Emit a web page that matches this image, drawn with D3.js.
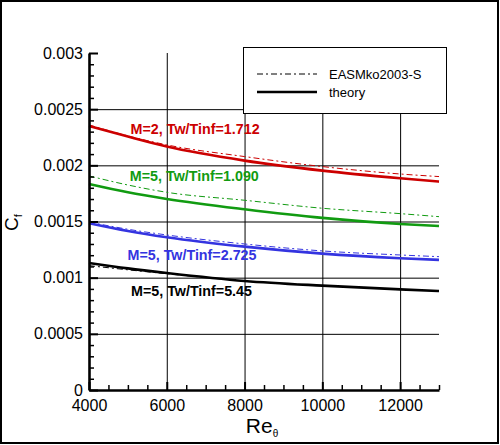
<!DOCTYPE html>
<html>
<head>
<meta charset="utf-8">
<script src="https://cdn.jsdelivr.net/npm/d3@7"></script>
<style>
  body { margin: 0; background: #fff; }
  svg { font-family: "Liberation Sans", Arial, Helvetica, sans-serif; }
  .tick text { font-size: 16px; fill: #000; }
  .grid .tick line { stroke: #000; stroke-width: 1; }
  .grid .domain { display: none; }
</style>
</head>
<body>
<div id="chart"></div>
<script>

// Re_theta sample positions
var reTheta = [4000, 5000, 6000, 8000, 10000, 12000, 13000];

// theory curves (solid)
var theoryM2T1712 = [0.002351, 0.002256, 0.002167, 0.002042, 0.001953, 0.001885, 0.001855];
var theoryM5T1090 = [0.001834, 0.001760, 0.001701, 0.001609, 0.001532, 0.001478, 0.001460];
var theoryM5T2725 = [0.001485, 0.001416, 0.001360, 0.001276, 0.001214, 0.001173, 0.001158];
var theoryM5T545  = [0.001131, 0.001083, 0.001042, 0.000971, 0.000929, 0.000896, 0.000881];

// EASMko2003-S curves (dash-dot)
var easmM2T1712 = [0.002360, 0.002262, 0.002182, 0.002078, 0.001989, 0.001923, 0.001900];
var easmM5T1090 = [0.001906, 0.001825, 0.001760, 0.001689, 0.001618, 0.001570, 0.001543];
var easmM5T2725 = [0.001495, 0.001431, 0.001380, 0.001300, 0.001238, 0.001202, 0.001187];
var easmM5T545  = [0.001107, 0.001070, 0.001035, 0.000971, 0.000929, 0.000896, 0.000881];

var caseNames = ["M=2, Tw/Tinf=1.712", "M=5, Tw/Tinf=1.090", "M=5, Tw/Tinf=2.725", "M=5, Tw/Tinf=5.45"];
var caseColors = ["#cc0000", "#119b11", "#3434e0", "#000000"];

var xTicks = [4000, 6000, 8000, 10000, 12000];
var yTicks = [0, 0.0005, 0.001, 0.0015, 0.002, 0.0025, 0.003];

var W = 500, H = 445;
var margin = {top: 53, right: 61, bottom: 55, left: 89};
var width = W - margin.left - margin.right,
    height = H - margin.top - margin.bottom;

var svg = d3.select("#chart").append("svg")
    .attr("width", W)
    .attr("height", H);

// outer frame
svg.append("rect")
    .attr("x", 1).attr("y", 1)
    .attr("width", 497).attr("height", 442)
    .attr("fill", "none")
    .attr("stroke", "#000")
    .attr("stroke-width", 2);

var g = svg.append("g")
    .attr("transform", "translate(" + margin.left + "," + margin.top + ")");

var x = d3.scaleLinear().domain([4000, 13000]).range([0, width]);
var y = d3.scaleLinear().domain([0, 0.003]).range([height, 0]);

// grid lines
g.append("g")
    .attr("class", "grid")
    .attr("transform", "translate(0," + height + ")")
    .call(d3.axisBottom(x).tickValues(xTicks.slice(1)).tickSize(-height).tickFormat(""));

g.append("g")
    .attr("class", "grid")
    .call(d3.axisLeft(y).tickValues(yTicks.slice(1, -1)).tickSize(-width).tickFormat(""));

// curves
var series = [
    {theory: theoryM2T1712, easm: easmM2T1712},
    {theory: theoryM5T1090, easm: easmM5T1090},
    {theory: theoryM5T2725, easm: easmM5T2725},
    {theory: theoryM5T545,  easm: easmM5T545}
];

var line = d3.line()
    .x(function(d) { return x(d[0]); })
    .y(function(d) { return y(d[1]); })
    .curve(d3.curveMonotoneX);

series.forEach(function(s, i) {
    g.append("path")
        .datum(d3.zip(reTheta, s.easm))
        .attr("d", line)
        .attr("fill", "none")
        .attr("stroke", caseColors[i])
        .attr("stroke-width", 1)
        .attr("stroke-dasharray", "6,3,2,3");

    g.append("path")
        .datum(d3.zip(reTheta, s.theory))
        .attr("d", line)
        .attr("fill", "none")
        .attr("stroke", caseColors[i])
        .attr("stroke-width", 2.6);
});

// curve labels
var labelPos = [[5070, 0.00228], [5050, 0.00186], [4990, 0.001155], [5080, 0.000835]];
labelPos.forEach(function(p, i) {
    g.append("text")
        .attr("x", x(p[0]))
        .attr("y", y(p[1]))
        .attr("fill", caseColors[i])
        .attr("font-size", 15)
        .attr("font-weight", "bold")
        .attr("textLength", i == 3 ? 121 : 129)
        .attr("lengthAdjust", "spacingAndGlyphs")
        .text(caseNames[i]);
});

// minor ticks
var xMinor = d3.range(4500, 13001, 500).filter(function(d) { return d % 2000 != 0; });
var yMinor = d3.range(1, 30).map(function(d) { return d / 10000; }).filter(function(d, i) { return (i + 1) % 5 != 0; });

g.append("g")
    .attr("transform", "translate(0," + height + ")")
    .call(d3.axisBottom(x).tickValues(xMinor).tickSize(-5).tickSizeOuter(0).tickFormat(""))
    .call(function(a) { a.select(".domain").remove(); a.selectAll("line").attr("stroke-width", 1.5); });

g.append("g")
    .call(d3.axisLeft(y).tickValues(yMinor).tickSize(-5).tickSizeOuter(0).tickFormat(""))
    .call(function(a) { a.select(".domain").remove(); a.selectAll("line").attr("stroke-width", 1.5); });

// major axes
var xAxis = g.append("g")
    .attr("transform", "translate(0," + height + ")")
    .call(d3.axisBottom(x).tickValues(xTicks).tickSizeInner(-8).tickSizeOuter(0).tickPadding(10)
        .tickFormat(d3.format("d")));
xAxis.select(".domain").attr("stroke-width", 2.6);
xAxis.selectAll("line").attr("stroke-width", 2);
xAxis.selectAll("text").attr("y", 10).attr("dy", "0.71em");

var yAxis = g.append("g")
    .call(d3.axisLeft(y).tickValues(yTicks).tickSizeInner(-9).tickSizeOuter(0).tickPadding(6)
        .tickFormat(function(d) { return String(+d.toFixed(4)); }));
yAxis.select(".domain").attr("stroke-width", 2.6);
yAxis.selectAll("line").attr("stroke-width", 2);
yAxis.selectAll("text").attr("x", -6);

// axis titles
var xt = svg.append("text")
    .attr("x", 262)
    .attr("y", 433)
    .attr("text-anchor", "middle")
    .attr("font-size", 21);
xt.append("tspan").text("Re");
xt.append("tspan").attr("font-size", 10).attr("dy", 4).text("θ");

var yt = svg.append("text")
    .attr("transform", "translate(18,231) rotate(-90)")
    .attr("font-size", 19);
yt.append("tspan").text("C");
yt.append("tspan").attr("font-size", 11).attr("dy", 4).text("f");

// legend
var legend = svg.append("g");
legend.append("rect")
    .attr("x", 243.5).attr("y", 47.5)
    .attr("width", 203).attr("height", 66)
    .attr("fill", "#fff")
    .attr("stroke", "#000")
    .attr("stroke-width", 1);

var legendItems = [
    {label: "EASMko2003-S", dash: "6,3,2,3", w: 1},
    {label: "theory", dash: null, w: 2.6}
];
legendItems.forEach(function(d, i) {
    legend.append("line")
        .attr("x1", 257).attr("x2", 317)
        .attr("y1", 74 + i * 18).attr("y2", 74 + i * 18)
        .attr("stroke", "#000")
        .attr("stroke-width", d.w)
        .attr("stroke-dasharray", d.dash);
    legend.append("text")
        .attr("x", 329)
        .attr("y", 79 + i * 18)
        .attr("font-size", 13)
        .text(d.label);
});

</script>
</body>
</html>
